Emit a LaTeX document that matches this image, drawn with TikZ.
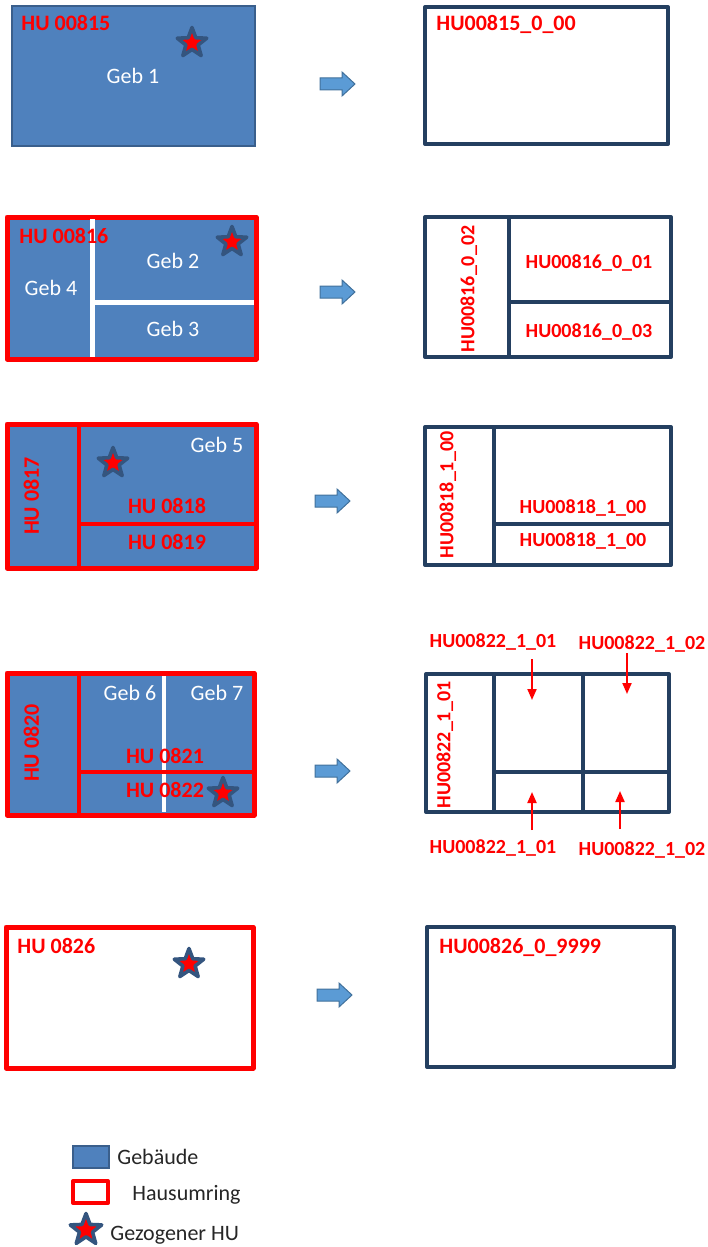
\documentclass[tikz,border=0pt]{standalone}
\usepackage{fontspec}
\setmainfont{Carlito}
\usetikzlibrary{shapes.geometric, arrows.meta}
\definecolor{bldg}{HTML}{4F81BD}
\definecolor{bldgedge}{HTML}{3A5F8C}
\definecolor{staredge}{HTML}{34557F}
\definecolor{navy}{HTML}{243F60}
\definecolor{hured}{HTML}{FF0000}
\definecolor{arrfill}{HTML}{5B9BD5}
\definecolor{arredge}{HTML}{41719C}
\definecolor{legtext}{HTML}{262626}
\newcommand{\blockarr}[2]{\draw[blockarrow] (#1-17,#2-6) -- (#1+5,#2-6) -- (#1+5,#2-12) -- (#1+18,#2) -- (#1+5,#2+12) -- (#1+5,#2+6) -- (#1-17,#2+6) -- cycle;}
\tikzset{
  hulabel/.style={text=hured, font=\fontsize{11}{13}\selectfont\bfseries, inner sep=0pt, text height=7pt, text depth=0pt},
  idlabel/.style={text=hured, font=\fontsize{10}{12}\selectfont\bfseries, inner sep=0pt, text height=6.4pt, text depth=0pt},
  geblabel/.style={text=white, font=\fontsize{11}{13}\selectfont, inner sep=0pt, text height=7pt, text depth=0pt},
  legend/.style={text=legtext, font=\fontsize{11}{13}\selectfont, inner sep=0pt, text height=7pt, text depth=0pt, anchor=west},
  bldgfill/.style={fill=bldg},
  ring/.style={draw=hured, line width=2.5pt, line join=round},
  divider/.style={draw=hured, line width=2pt},
  gap/.style={draw=white, line width=2.5pt},
  outbox/.style={draw=navy, line width=2pt, line join=round},
  hustar/.style={star, star points=5, star point ratio=2.4, minimum size=15.5pt, fill=hured, draw=staredge, line width=1.8pt, line join=round, inner sep=0pt},
  blockarrow/.style={fill=arrfill, draw=arredge, line width=0.5pt},
  ptr/.style={draw=hured, line width=1pt, -{Triangle[length=5.5pt,width=4.5pt]}}
}
\begin{document}
\begin{tikzpicture}[x=0.5pt, y=-0.5pt]
\useasboundingbox (0,0) rectangle (707,1247);
% ---------- Row 1 ----------
\draw[fill=bldg, draw=bldgedge, line width=0.8pt] (12,6) rectangle (255,146);
\node[hulabel, anchor=west] (l1) at (21,24) {HU 00815};
\node[geblabel] (g1) at (133,77) {Geb 1};
\node[hustar] (s1) at (192,43) {};
\blockarr{337}{84}
\draw[outbox] (425,7) rectangle (668,144);
\node[hulabel, anchor=west] (r1) at (436,24) {HU00815\_0\_00};
% ---------- Row 2 ----------
\fill[bldgfill] (7,217) rectangle (256,359);
\draw[ring] (7,217) rectangle (256,359);
\draw[gap] (92,219) -- (92,357);
\draw[gap] (92,302) -- (254,302);
\node[hulabel, anchor=west] (l2) at (19,236) {HU 00816};
\node[geblabel] (g2) at (173,261) {Geb 2};
\node[geblabel] (g4) at (51,288) {Geb 4};
\node[geblabel] (g3) at (173,329) {Geb 3};
\node[hustar] (s2) at (232,242) {};
\blockarr{337}{292}
\draw[outbox] (425,217) rectangle (671,357);
\draw[outbox] (509,217) -- (509,357);
\draw[outbox] (509,302) -- (671,302);
\node[idlabel, rotate=90] (r2a) at (468,289) {HU00816\_0\_02};
\node[idlabel] (r2b) at (589,262) {HU00816\_0\_01};
\node[idlabel] (r2c) at (589,331) {HU00816\_0\_03};
% ---------- Row 3 ----------
\fill[bldgfill] (7,424) rectangle (256,568);
\draw[ring] (7,424) rectangle (256,568);
\draw[divider] (79,424) -- (79,568);
\draw[divider] (79,524) -- (256,524);
\node[hulabel, rotate=90] (l3a) at (32,496) {HU 0817};
\node[geblabel] (g5) at (217,445) {Geb 5};
\node[hulabel] (l3b) at (167,506) {HU 0818};
\node[hulabel] (l3c) at (167,542) {HU 0819};
\node[hustar] (s3) at (113,463) {};
\blockarr{332}{501}
\draw[outbox] (425,427) rectangle (671,565);
\draw[outbox] (494,427) -- (494,565);
\draw[outbox] (494,524) -- (671,524);
\node[idlabel, rotate=90] (r3a) at (447,495) {HU00818\_1\_00};
\node[idlabel] (r3b) at (583,507) {HU00818\_1\_00};
\node[idlabel] (r3c) at (583,540) {HU00818\_1\_00};
% ---------- Row 4 ----------
\fill[bldgfill] (7,673) rectangle (254,815);
\draw[gap, line width=2pt] (164,676) -- (164,812);
\draw[ring] (7,673) rectangle (254,815);
\draw[divider] (79,673) -- (79,815);
\draw[divider] (79,772) -- (254,772);
\node[hulabel, rotate=90] (l4a) at (32,743) {HU 0820};
\node[geblabel] (g6) at (130,693) {Geb 6};
\node[geblabel] (g7) at (217,693) {Geb 7};
\node[hulabel] (l4b) at (165,756) {HU 0821};
\node[hulabel] (l4c) at (165,790) {HU 0822};
\node[hustar] (s4) at (223,793) {};
\blockarr{332}{771}
\draw[outbox] (426,674) rectangle (669,812);
\draw[outbox] (494,674) -- (494,812);
\draw[outbox] (583,674) -- (583,812);
\draw[outbox] (494,772) -- (669,772);
\node[idlabel, rotate=90] (r4a) at (444,745) {HU00822\_1\_01};
\node[idlabel] (t1) at (493,641) {HU00822\_1\_01};
\node[idlabel] (t2) at (642,643) {HU00822\_1\_02};
\node[idlabel] (b1) at (493,847) {HU00822\_1\_01};
\node[idlabel] (b2) at (642,849) {HU00822\_1\_02};
\coordinate (t1s) at (532,659); \coordinate (t1e) at (532,700);
\coordinate (t2s) at (627,653); \coordinate (t2e) at (627,694);
\coordinate (b1s) at (532,830); \coordinate (b1e) at (532,792);
\coordinate (b2s) at (620,829); \coordinate (b2e) at (620,791);
\draw[ptr] (t1s) -- (t1e);
\draw[ptr] (t2s) -- (t2e);
\draw[ptr] (b1s) -- (b1e);
\draw[ptr] (b2s) -- (b2e);
% ---------- Row 5 ----------
\draw[ring] (6,927) rectangle (253,1068);
\node[hulabel, anchor=west] (l5) at (17,946) {HU 0826};
\node[hustar] (s5) at (189,964) {};
\blockarr{334}{995}
\draw[outbox] (427,927) rectangle (674,1067);
\node[hulabel, anchor=west] (r5) at (439,946) {HU00826\_0\_9999};
% ---------- Legend ----------
\draw[fill=bldg, draw=bldgedge, line width=0.8pt] (73,1146) rectangle (109,1168);
\node[legend] (lg1) at (117,1157) {Gebäude};
\draw[ring, line width=2pt, fill=white] (73,1181) rectangle (108,1203);
\node[legend] (lg2) at (132,1193) {Hausumring};
\node[hustar, minimum size=16.5pt] (lg3s) at (86,1230) {};
\node[legend] (lg3) at (110,1233) {Gezogener HU};
\end{tikzpicture}
\end{document}
